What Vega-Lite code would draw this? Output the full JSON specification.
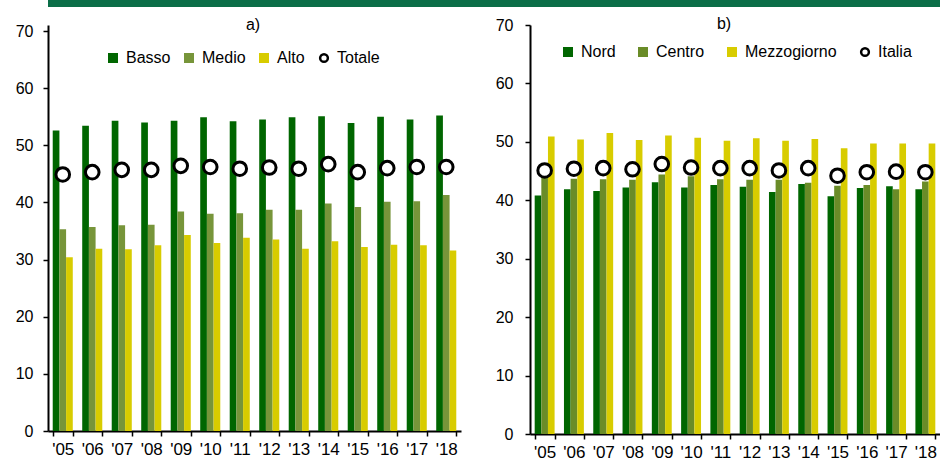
{
  "$schema": "https://vega.github.io/schema/vega-lite/v6.json",
  "padding": 0,
  "background": "white",
  "spacing": 9,
  "config": {
    "font": "Liberation Sans",
    "view": {"stroke": null},
    "axis": {"labelFont": "Liberation Sans", "labelFontSize": 16, "labelColor": "black", "domainColor": "black", "tickColor": "black", "grid": false, "title": null},
    "legend": {"labelFont": "Liberation Sans", "labelFontSize": 16, "labelColor": "black", "padding": 0, "gridAlign": "none",
               "titleFont": "Liberation Sans", "titleFontSize": 16, "titleFontWeight": "normal", "titleColor": "black", "titleOrient": "top", "titleAnchor": "middle", "titleBaseline": "top"}
  },
  "datasets": {
    "a": [
      {"anno": "'05", "serie": "Basso", "valore": 52.6}, {"anno": "'05", "serie": "Medio", "valore": 35.3}, {"anno": "'05", "serie": "Alto", "valore": 30.4}, {"anno": "'05", "serie": "Totale", "valore": 44.9},
      {"anno": "'06", "serie": "Basso", "valore": 53.4}, {"anno": "'06", "serie": "Medio", "valore": 35.7}, {"anno": "'06", "serie": "Alto", "valore": 31.9}, {"anno": "'06", "serie": "Totale", "valore": 45.3},
      {"anno": "'07", "serie": "Basso", "valore": 54.3}, {"anno": "'07", "serie": "Medio", "valore": 36.0}, {"anno": "'07", "serie": "Alto", "valore": 31.8}, {"anno": "'07", "serie": "Totale", "valore": 45.7},
      {"anno": "'08", "serie": "Basso", "valore": 54.0}, {"anno": "'08", "serie": "Medio", "valore": 36.1}, {"anno": "'08", "serie": "Alto", "valore": 32.5}, {"anno": "'08", "serie": "Totale", "valore": 45.7},
      {"anno": "'09", "serie": "Basso", "valore": 54.3}, {"anno": "'09", "serie": "Medio", "valore": 38.4}, {"anno": "'09", "serie": "Alto", "valore": 34.3}, {"anno": "'09", "serie": "Totale", "valore": 46.4},
      {"anno": "'10", "serie": "Basso", "valore": 54.9}, {"anno": "'10", "serie": "Medio", "valore": 38.0}, {"anno": "'10", "serie": "Alto", "valore": 32.9}, {"anno": "'10", "serie": "Totale", "valore": 46.2},
      {"anno": "'11", "serie": "Basso", "valore": 54.2}, {"anno": "'11", "serie": "Medio", "valore": 38.1}, {"anno": "'11", "serie": "Alto", "valore": 33.8}, {"anno": "'11", "serie": "Totale", "valore": 45.9},
      {"anno": "'12", "serie": "Basso", "valore": 54.5}, {"anno": "'12", "serie": "Medio", "valore": 38.7}, {"anno": "'12", "serie": "Alto", "valore": 33.5}, {"anno": "'12", "serie": "Totale", "valore": 46.1},
      {"anno": "'13", "serie": "Basso", "valore": 54.9}, {"anno": "'13", "serie": "Medio", "valore": 38.7}, {"anno": "'13", "serie": "Alto", "valore": 31.9}, {"anno": "'13", "serie": "Totale", "valore": 45.9},
      {"anno": "'14", "serie": "Basso", "valore": 55.1}, {"anno": "'14", "serie": "Medio", "valore": 39.8}, {"anno": "'14", "serie": "Alto", "valore": 33.2}, {"anno": "'14", "serie": "Totale", "valore": 46.7},
      {"anno": "'15", "serie": "Basso", "valore": 53.9}, {"anno": "'15", "serie": "Medio", "valore": 39.2}, {"anno": "'15", "serie": "Alto", "valore": 32.2}, {"anno": "'15", "serie": "Totale", "valore": 45.3},
      {"anno": "'16", "serie": "Basso", "valore": 55.0}, {"anno": "'16", "serie": "Medio", "valore": 40.1}, {"anno": "'16", "serie": "Alto", "valore": 32.6}, {"anno": "'16", "serie": "Totale", "valore": 46.0},
      {"anno": "'17", "serie": "Basso", "valore": 54.5}, {"anno": "'17", "serie": "Medio", "valore": 40.2}, {"anno": "'17", "serie": "Alto", "valore": 32.5}, {"anno": "'17", "serie": "Totale", "valore": 46.2},
      {"anno": "'18", "serie": "Basso", "valore": 55.2}, {"anno": "'18", "serie": "Medio", "valore": 41.3}, {"anno": "'18", "serie": "Alto", "valore": 31.6}, {"anno": "'18", "serie": "Totale", "valore": 46.2}
    ],
    "b": [
      {"anno": "'05", "serie": "Nord", "valore": 40.8}, {"anno": "'05", "serie": "Centro", "valore": 44.0}, {"anno": "'05", "serie": "Mezzogiorno", "valore": 50.9}, {"anno": "'05", "serie": "Italia", "valore": 45.1},
      {"anno": "'06", "serie": "Nord", "valore": 41.9}, {"anno": "'06", "serie": "Centro", "valore": 43.7}, {"anno": "'06", "serie": "Mezzogiorno", "valore": 50.4}, {"anno": "'06", "serie": "Italia", "valore": 45.4},
      {"anno": "'07", "serie": "Nord", "valore": 41.6}, {"anno": "'07", "serie": "Centro", "valore": 43.6}, {"anno": "'07", "serie": "Mezzogiorno", "valore": 51.5}, {"anno": "'07", "serie": "Italia", "valore": 45.5},
      {"anno": "'08", "serie": "Nord", "valore": 42.2}, {"anno": "'08", "serie": "Centro", "valore": 43.5}, {"anno": "'08", "serie": "Mezzogiorno", "valore": 50.3}, {"anno": "'08", "serie": "Italia", "valore": 45.3},
      {"anno": "'09", "serie": "Nord", "valore": 43.1}, {"anno": "'09", "serie": "Centro", "valore": 44.4}, {"anno": "'09", "serie": "Mezzogiorno", "valore": 51.1}, {"anno": "'09", "serie": "Italia", "valore": 46.2},
      {"anno": "'10", "serie": "Nord", "valore": 42.2}, {"anno": "'10", "serie": "Centro", "valore": 44.1}, {"anno": "'10", "serie": "Mezzogiorno", "valore": 50.7}, {"anno": "'10", "serie": "Italia", "valore": 45.6},
      {"anno": "'11", "serie": "Nord", "valore": 42.6}, {"anno": "'11", "serie": "Centro", "valore": 43.6}, {"anno": "'11", "serie": "Mezzogiorno", "valore": 50.2}, {"anno": "'11", "serie": "Italia", "valore": 45.5},
      {"anno": "'12", "serie": "Nord", "valore": 42.3}, {"anno": "'12", "serie": "Centro", "valore": 43.5}, {"anno": "'12", "serie": "Mezzogiorno", "valore": 50.6}, {"anno": "'12", "serie": "Italia", "valore": 45.5},
      {"anno": "'13", "serie": "Nord", "valore": 41.4}, {"anno": "'13", "serie": "Centro", "valore": 43.5}, {"anno": "'13", "serie": "Mezzogiorno", "valore": 50.2}, {"anno": "'13", "serie": "Italia", "valore": 45.1},
      {"anno": "'14", "serie": "Nord", "valore": 42.8}, {"anno": "'14", "serie": "Centro", "valore": 43.0}, {"anno": "'14", "serie": "Mezzogiorno", "valore": 50.5}, {"anno": "'14", "serie": "Italia", "valore": 45.5},
      {"anno": "'15", "serie": "Nord", "valore": 40.7}, {"anno": "'15", "serie": "Centro", "valore": 42.5}, {"anno": "'15", "serie": "Mezzogiorno", "valore": 48.9}, {"anno": "'15", "serie": "Italia", "valore": 44.2},
      {"anno": "'16", "serie": "Nord", "valore": 42.1}, {"anno": "'16", "serie": "Centro", "valore": 42.6}, {"anno": "'16", "serie": "Mezzogiorno", "valore": 49.7}, {"anno": "'16", "serie": "Italia", "valore": 44.8},
      {"anno": "'17", "serie": "Nord", "valore": 42.4}, {"anno": "'17", "serie": "Centro", "valore": 41.9}, {"anno": "'17", "serie": "Mezzogiorno", "valore": 49.7}, {"anno": "'17", "serie": "Italia", "valore": 44.9},
      {"anno": "'18", "serie": "Nord", "valore": 41.9}, {"anno": "'18", "serie": "Centro", "valore": 43.2}, {"anno": "'18", "serie": "Mezzogiorno", "valore": 49.7}, {"anno": "'18", "serie": "Italia", "valore": 44.8}
    ],
    "band": [{"k": 1}]
  },
  "vconcat": [
    {
      "width": 940,
      "height": 7,
      "data": {"name": "band"},
      "mark": {"type": "rect", "color": "#0b6e48"},
      "encoding": {}
    },
    {
      "hconcat": [
        {
          "width": 413,
          "height": 406,
          "data": {"name": "a"},
          "layer": [
            {
              "transform": [{"filter": "datum.serie !== 'Totale'"}],
              "mark": {"type": "bar"},
              "encoding": {
                "x": {"field": "anno", "type": "nominal", "scale": {"paddingInner": 0.32, "paddingOuter": 0.16},
                      "axis": {"labelAngle": 0, "labelFontSize": 17, "tickSize": 5, "tickBand": "extent", "labelPadding": 5, "domainWidth": 2, "tickWidth": 1.5}},
                "xOffset": {"field": "serie", "type": "nominal", "scale": {"domain": ["Basso", "Medio", "Alto"], "paddingInner": 0, "paddingOuter": 0}},
                "y": {"field": "valore", "type": "quantitative", "scale": {"domain": [0, 71.05], "nice": false},
                      "axis": {"values": [0, 10, 20, 30, 40, 50, 60, 70], "tickSize": 5, "labelPadding": 10, "minExtent": 48, "domainWidth": 2, "tickWidth": 1.5}},
                "color": {"field": "serie", "type": "nominal",
                          "scale": {"domain": ["Basso", "Medio", "Alto", "Totale"], "range": ["#006600", "#77953a", "#d8cc00", "white"]},
                          "legend": {"title": "a)", "titlePadding": 17, "orient": "none", "direction": "horizontal", "legendX": 57, "legendY": -8, "columnPadding": 10, "labelOffset": 5, "symbolSize": 100,
                                     "encode": {
                                       "title": {"update": {"dx": {"value": 11}}},
                                       "symbols": {"update": {
                                       "shape": {"signal": "datum.value === 'Totale' ? 'circle' : 'square'"},
                                       "size": {"signal": "datum.value === 'Totale' ? 60 : 100"},
                                       "stroke": {"value": "black"},
                                       "strokeWidth": {"signal": "datum.value === 'Totale' ? 2.5 : 0"}}}}}}
              }
            },
            {
              "transform": [{"filter": "datum.serie === 'Totale'"}],
              "mark": {"type": "point", "filled": true, "fill": "white", "stroke": "black", "strokeWidth": 3, "size": 185, "opacity": 1},
              "encoding": {
                "x": {"field": "anno", "type": "nominal"},
                "y": {"field": "valore", "type": "quantitative"}
              }
            }
          ]
        },
        {
          "width": 410,
          "height": 409,
          "data": {"name": "b"},
          "layer": [
            {
              "transform": [{"filter": "datum.serie !== 'Italia'"}],
              "mark": {"type": "bar"},
              "encoding": {
                "x": {"field": "anno", "type": "nominal", "scale": {"paddingInner": 0.32, "paddingOuter": 0.16},
                      "axis": {"labelAngle": 0, "labelFontSize": 17, "tickSize": 5, "tickBand": "extent", "labelPadding": 5, "domainWidth": 2, "tickWidth": 1.5}},
                "xOffset": {"field": "serie", "type": "nominal", "scale": {"domain": ["Nord", "Centro", "Mezzogiorno"], "paddingInner": 0, "paddingOuter": 0}},
                "y": {"field": "valore", "type": "quantitative", "scale": {"domain": [0, 70], "nice": false},
                      "axis": {"values": [0, 10, 20, 30, 40, 50, 60, 70], "tickSize": 5, "labelPadding": 12, "minExtent": 38, "domainWidth": 2, "tickWidth": 1.5}},
                "color": {"field": "serie", "type": "nominal",
                          "scale": {"domain": ["Nord", "Centro", "Mezzogiorno", "Italia"], "range": ["#006600", "#6a8c28", "#d8cc00", "white"]},
                          "legend": {"title": "b)", "titlePadding": 12, "orient": "none", "direction": "horizontal", "legendX": 30, "legendY": -9, "columnPadding": 19, "labelOffset": 5, "symbolSize": 100,
                                     "encode": {
                                       "title": {"update": {"dx": {"value": -12}}},
                                       "symbols": {"update": {
                                       "shape": {"signal": "datum.value === 'Italia' ? 'circle' : 'square'"},
                                       "size": {"signal": "datum.value === 'Italia' ? 60 : 100"},
                                       "stroke": {"value": "black"},
                                       "strokeWidth": {"signal": "datum.value === 'Italia' ? 2.5 : 0"}}}}}}
              }
            },
            {
              "transform": [{"filter": "datum.serie === 'Italia'"}],
              "mark": {"type": "point", "filled": true, "fill": "white", "stroke": "black", "strokeWidth": 3, "size": 185, "opacity": 1},
              "encoding": {
                "x": {"field": "anno", "type": "nominal"},
                "y": {"field": "valore", "type": "quantitative"}
              }
            }
          ]
        }
      ],
      "resolve": {"scale": {"color": "independent", "x": "independent", "y": "independent", "xOffset": "independent"}, "legend": {"color": "independent"}},
      "align": "none",
      "spacing": 31
    }
  ]
}
